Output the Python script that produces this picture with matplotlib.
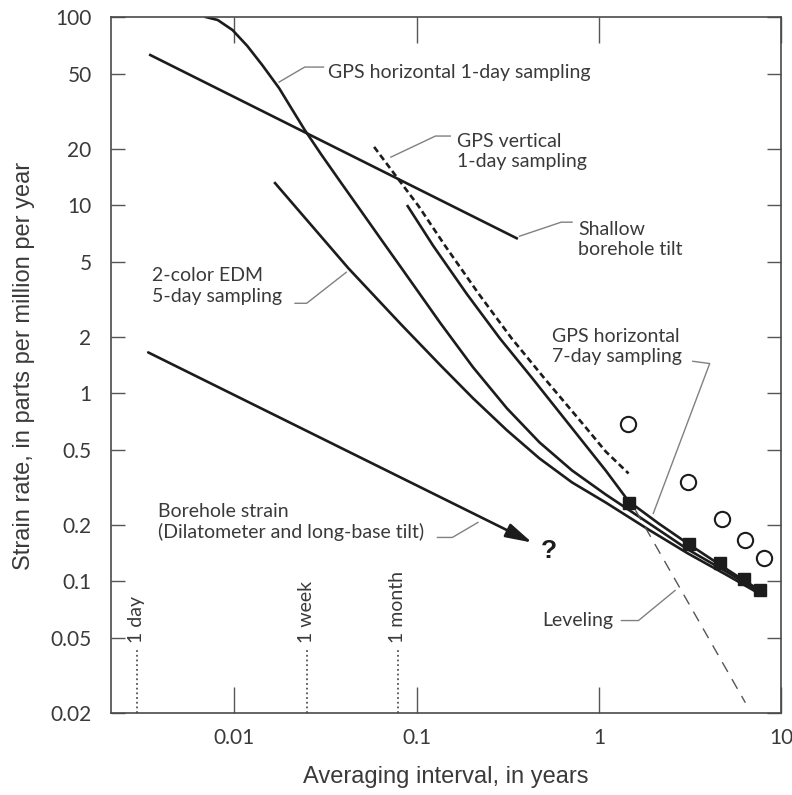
import matplotlib
matplotlib.use('Agg')
import matplotlib.pyplot as plt
from matplotlib.ticker import NullLocator

# values: x = averaging interval (years), y = strain rate (ppm/yr)
gps1_x = [0.00695, 0.00809, 0.00975, 0.01177, 0.01419, 0.01757, 0.02066, 0.0243, 0.0301,
          0.0386, 0.0496, 0.0637, 0.0819, 0.135, 0.204, 0.313, 0.472, 0.713, 1.09, 1.65,
          3.08, 5.09, 7.59]
gps1_y = [100, 96.4, 85.3, 70.1, 55.6, 41.9, 32.4, 25.1, 18.45,
          13.09, 9.29, 6.59, 4.68, 2.36, 1.375, 0.832, 0.549, 0.389, 0.290, 0.222,
          0.148, 0.1117, 0.0885]

edm_x = [0.0167, 0.0422, 0.0819, 0.135, 0.204, 0.313, 0.472, 0.713, 1.09, 1.87, 3.08, 5.09, 7.41]
edm_y = [13.1, 4.62, 2.33, 1.41, 0.941, 0.636, 0.451, 0.336, 0.263, 0.189, 0.141, 0.1076, 0.0874]

gps7_x = [0.0893, 0.1237, 0.189, 0.286, 0.432, 0.713, 1.09, 1.456, 2.12, 3.08, 4.60, 6.29, 7.69]
gps7_y = [9.88, 6.05, 3.36, 1.96, 1.20, 0.652, 0.389, 0.267, 0.204, 0.159, 0.123, 0.101, 0.0896]

vert_x = [0.0584, 0.0769, 0.1025, 0.1438, 0.220, 0.332, 0.503, 0.829, 1.09, 1.456]
vert_y = [20.4, 14.3, 9.88, 6.05, 3.36, 1.96, 1.20, 0.676, 0.491, 0.375]

tilt_x = [0.00345, 0.354]
tilt_y = [62.8, 6.67]

strain_x = [0.00336, 0.43]
strain_y = [1.65, 0.161]

level_x = [1.59, 6.37]
level_y = [0.239, 0.0227]

square_x = [1.46, 3.12, 4.60, 6.29, 7.69]
square_y = [0.260, 0.159, 0.125, 0.1025, 0.0896]

circle_x = [1.44, 3.09, 4.77, 6.37, 8.08]
circle_y = [0.684, 0.336, 0.216, 0.167, 0.134]

marks = ['1 day', '1 week', '1 month']
mark_x = [0.0029, 0.0249, 0.0788]

xticks = [0.01, 0.1, 1, 10]
xlabels = ['0.01', '0.1', '1', '10']
yticks = [0.02, 0.05, 0.1, 0.2, 0.5, 1, 2, 5, 10, 20, 50, 100]
ylabels = ['0.02', '0.05', '0.1', '0.2', '0.5', '1', '2', '5', '10', '20', '50', '100']

narrow = ['Liberation Sans Narrow', 'DejaVu Sans Condensed', 'Lato', 'DejaVu Sans']
wide = ['Liberation Sans', 'DejaVu Sans']
ink = '#1c1c1c'
grey = '#3a3a3a'
lead = '#808080'

fig = plt.figure(figsize=(7.92, 7.95), dpi=100)
ax = fig.add_axes([0.14015, 0.10314, 0.8460, 0.87547])
ax.set_xscale('log')
ax.set_yscale('log')
ax.set_xlim(0.0021, 10)
ax.set_ylim(0.02, 100)

# solid curves
for xs, ys in [(gps1_x, gps1_y), (edm_x, edm_y), (gps7_x, gps7_y), (tilt_x, tilt_y)]:
    ax.plot(xs, ys, color=ink, lw=1.9)
ax.plot(vert_x, vert_y, color=ink, lw=1.9, ls=(0, (2.4, 1.4)))
ax.plot(level_x, level_y, color='#555555', lw=1.0, ls=(0, (8, 6)))

ax.annotate('', xy=(strain_x[1], strain_y[1]), xytext=(strain_x[0], strain_y[0]),
            arrowprops=dict(arrowstyle='-|>,head_length=0.8,head_width=0.22',
                            mutation_scale=20, lw=1.9, color=ink,
                            shrinkA=0, shrinkB=0))

ax.plot(square_x, square_y, 's', color=ink, ms=9, zorder=5)
ax.plot(circle_x, circle_y, 'o', mfc='white', mec=ink, mew=1.5, ms=11, zorder=5)

# time marks near the bottom
for name, x in zip(marks, mark_x):
    ax.plot([x, x], [0.02, 0.044], color='#555555', lw=1.3, ls=(0, (1, 1.6)))
    ax.text(x, 0.047, name, rotation=90, ha='center', va='bottom',
            fontsize=14, family=narrow, color=grey)

# leader lines
ax.plot([0.01757, 0.0243, 0.0308], [45.1, 54.2, 54.2], color=lead, lw=1.0)
ax.plot([0.0722, 0.1268, 0.153], [18.0, 23.3, 23.3], color=lead, lw=1.0)
ax.plot([0.367, 0.621, 0.713], [6.84, 8.12, 8.12], color=lead, lw=1.0)
ax.plot([0.0215, 0.0249, 0.0411], [3.01, 3.01, 4.40], color=lead, lw=1.0)
ax.plot([3.28, 4.06, 1.99], [1.48, 1.44, 0.230], color=lead, lw=1.0)
ax.plot([0.130, 0.157, 0.217], [0.1714, 0.1714, 0.206], color=lead, lw=1.0)
ax.plot([1.33, 1.65, 2.62], [0.062, 0.062, 0.0896], color=lead, lw=1.0)

lab = dict(fontsize=14, family=narrow, color=grey, ha='left', va='center', linespacing=1.25)
ax.text(0.0328, 51.0, 'GPS horizontal 1-day sampling', **lab)
ax.text(0.167, 19.3, 'GPS vertical\n1-day sampling', **lab)
ax.text(0.769, 6.55, 'Shallow\nborehole tilt', **lab)
ax.text(0.00354, 3.71, '2-color EDM\n5-day sampling', **lab)
ax.text(0.555, 1.77, 'GPS horizontal\n7-day sampling', **lab)
ax.text(0.00381, 0.207, 'Borehole strain\n(Dilatometer and long-base tilt)', **lab)
ax.text(0.490, 0.062, 'Leveling', **lab)
ax.text(0.53, 0.146, '?', fontsize=19, weight='bold', family=wide, color=ink,
        ha='center', va='center')

# axes and ticks
ax.set_xticks(xticks, xlabels)
ax.set_yticks(yticks, ylabels)
ax.xaxis.set_minor_locator(NullLocator())
ax.yaxis.set_minor_locator(NullLocator())
ax.tick_params(axis='x', direction='in', length=19, width=1, top=True,
               color='#555555', labelcolor=grey, pad=11)
ax.tick_params(axis='y', direction='in', length=10, width=1, right=True,
               color='#555555', labelcolor=grey, pad=14)
for t in ax.get_xticklabels() + ax.get_yticklabels():
    t.set_family(narrow)
    t.set_fontsize(15)
for s in ax.spines.values():
    s.set_color('#4a4a4a')
    s.set_linewidth(1.2)

fig.text(446 / 792, 1 - 777 / 795, 'Averaging interval, in years', ha='center', va='center',
         fontsize=17, family=wide, color=grey)
fig.text(24 / 792, 1 - 366 / 795, 'Strain rate, in parts per million per year', rotation=90,
         ha='center', va='center', fontsize=17, family=wide, color=grey)

fig.savefig('out.png', dpi=100)
